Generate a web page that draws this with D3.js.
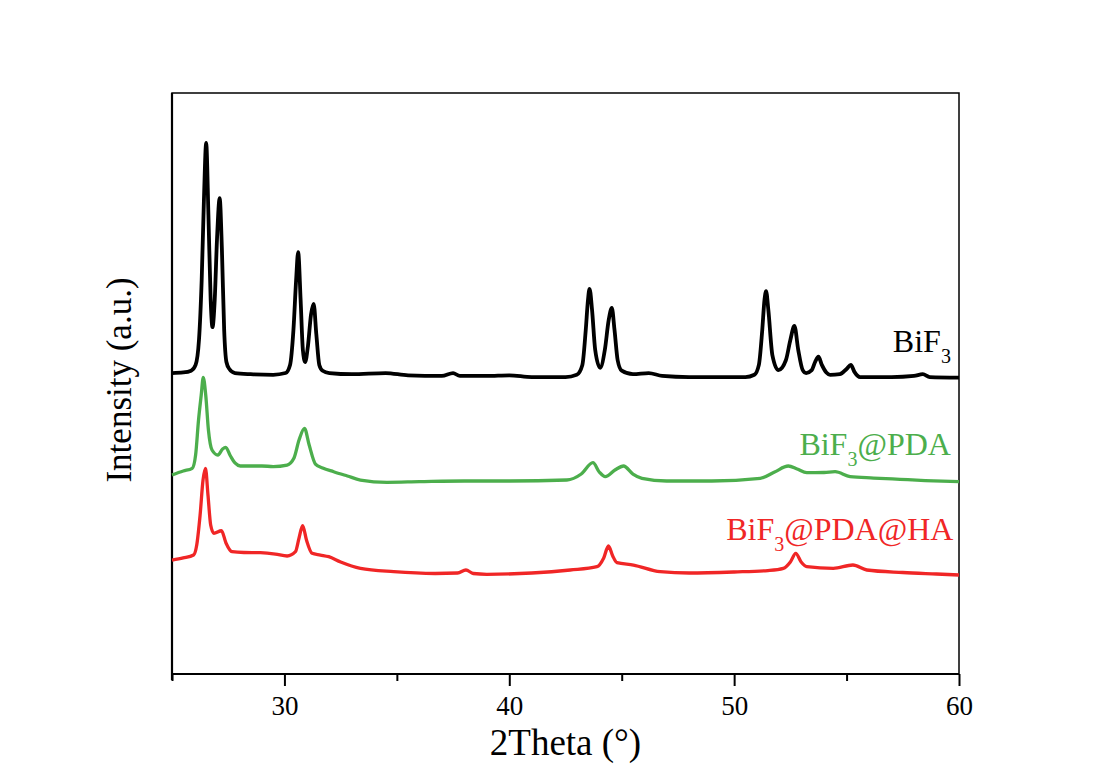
<!DOCTYPE html>
<html>
<head>
<meta charset="utf-8">
<script src="https://cdn.jsdelivr.net/npm/d3@7"></script>
<style>
  body { margin: 0; background: #fff; }
  text { font-family: "Liberation Serif", "Times New Roman", serif; }
</style>
</head>
<body>
<div id="main"></div>
<script>
const ctx = {
    CHART_WIDTH: 1100,
    CHART_HEIGHT: 776
};
const margin = {top: 93, right: 141, bottom: 102, left: 172};
const width = ctx.CHART_WIDTH - margin.left - margin.right;
const height = ctx.CHART_HEIGHT - margin.top - margin.bottom;

// x range and ticks (2Theta, degrees)
const xDomain = [25, 60];
const majorTicks = [30, 40, 50, 60];
const minorTicks = [25, 35, 45, 55];
const yDomain = [0, 100];

// [2theta, intensity (a.u., offset stacked)]
const bif3 = [[25.0,51.8],[25.5,51.9],[25.85,52.2],[26.05,53.2],[26.2,57.5],[26.32,67.8],[26.42,81.6],[26.52,91.4],[26.62,79.0],[26.72,64.4],[26.8,59.7],[26.9,64.4],[27.0,74.7],[27.12,81.9],[27.22,73.0],[27.32,59.2],[27.42,53.7],[27.55,52.5],[27.8,51.8],[28.5,51.6],[29.5,51.5],[30.05,51.8],[30.25,53.2],[30.4,59.2],[30.52,67.8],[30.61,72.6],[30.72,64.4],[30.82,55.8],[30.92,53.7],[31.05,56.6],[31.18,61.8],[31.3,63.7],[31.42,58.4],[31.55,53.2],[31.7,52.2],[32.0,51.8],[33.0,51.6],[34.5,51.8],[35.5,51.4],[37.0,51.3],[37.5,51.8],[37.8,51.3],[39.0,51.3],[40.0,51.4],[41.0,51.1],[42.5,51.1],[43.0,51.5],[43.25,53.2],[43.4,59.2],[43.5,64.4],[43.57,66.3],[43.68,62.7],[43.82,55.8],[44.04,52.7],[44.25,55.8],[44.42,60.9],[44.56,63.0],[44.68,59.2],[44.82,54.0],[45.0,52.2],[45.5,51.6],[46.2,51.8],[46.8,51.3],[48.0,51.1],[50.5,51.1],[50.9,51.5],[51.1,53.2],[51.25,59.2],[51.35,64.4],[51.42,65.9],[51.52,62.7],[51.7,54.9],[51.97,52.3],[52.3,54.0],[52.5,57.5],[52.68,59.9],[52.85,55.8],[53.05,52.3],[53.2,51.8],[53.45,52.3],[53.6,53.7],[53.75,54.6],[53.9,53.2],[54.1,51.9],[54.27,51.5],[54.7,51.6],[55.0,52.5],[55.19,53.2],[55.35,52.0],[55.6,51.1],[57.0,51.1],[58.0,51.3],[58.39,51.6],[58.7,51.1],[60.0,51.0]];

const bif3Pda = [[25.0,34.25],[25.5,34.94],[25.9,35.4],[26.05,37.69],[26.18,43.72],[26.3,48.02],[26.39,51.07],[26.5,48.02],[26.62,42.0],[26.78,38.55],[27.04,37.69],[27.25,38.73],[27.39,39.02],[27.6,37.52],[27.8,36.32],[28.04,35.8],[29.0,35.8],[29.5,35.71],[30.12,35.97],[30.42,37.13],[30.65,40.28],[30.89,42.29],[31.1,39.41],[31.38,36.14],[31.7,35.46],[32.19,34.82],[32.8,34.08],[33.38,33.39],[34.56,32.99],[36.0,33.1],[38.0,33.22],[40.0,33.22],[42.56,33.39],[43.2,34.42],[43.72,36.37],[44.0,34.77],[44.27,33.96],[44.7,35.11],[45.08,35.8],[45.5,34.42],[45.9,33.68],[47.0,33.22],[49.0,33.22],[51.16,33.68],[51.8,34.77],[52.41,35.8],[52.8,35.28],[53.23,34.65],[54.0,34.68],[54.49,34.82],[55.16,33.96],[56.2,33.73],[57.38,33.51],[58.5,33.3],[60.0,33.1]];

const bif3PdaHa = [[25.0,19.62],[25.5,19.97],[25.96,20.48],[26.1,22.2],[26.25,27.37],[26.38,33.39],[26.49,35.4],[26.6,30.81],[26.72,25.65],[26.86,24.22],[27.2,24.66],[27.4,22.55],[27.67,21.05],[28.2,20.91],[28.93,20.88],[29.6,20.65],[30.12,20.31],[30.49,21.05],[30.65,23.41],[30.81,25.52],[30.98,23.06],[31.23,20.77],[31.6,20.48],[31.97,20.19],[32.5,19.28],[33.38,18.19],[34.86,17.61],[36.7,17.3],[37.7,17.38],[38.07,17.9],[38.4,17.3],[39.0,17.16],[41.0,17.38],[42.71,17.9],[43.9,18.47],[44.2,19.97],[44.41,22.03],[44.6,20.31],[44.79,19.16],[45.52,18.76],[46.71,17.61],[48.0,17.38],[50.0,17.56],[51.5,17.81],[52.19,18.19],[52.5,19.28],[52.74,20.77],[52.98,19.28],[53.23,18.47],[54.41,18.19],[55.28,18.76],[55.9,17.9],[57.5,17.47],[59.0,17.21],[60.0,17.04]];

const seriesNames = ["BiF3", "BiF3@PDA", "BiF3@PDA@HA"];
const seriesData = [bif3, bif3Pda, bif3PdaHa];
const seriesColors = ["#000000", "#4cae4c", "#f02626"];
const seriesWidths = [3.8, 3.3, 3.3];
// label anchor (right end) in data units
const labelX = [59.64, 59.64, 59.75];
const labelY = [55.5, 37.7, 23.1];

function createViz() {
    const svg = d3.select("#main").append("svg")
        .attr("width", ctx.CHART_WIDTH)
        .attr("height", ctx.CHART_HEIGHT);
    svg.append("rect").attr("width", ctx.CHART_WIDTH).attr("height", ctx.CHART_HEIGHT).attr("fill", "#fff");

    const g = svg.append("g").attr("transform", `translate(${margin.left},${margin.top})`);

    const x = d3.scaleLinear().domain(xDomain).range([0, width]);
    const y = d3.scaleLinear().domain(yDomain).range([height, 0]);

    // frame: top/right thin
    g.append("rect")
        .attr("x", 0).attr("y", 0)
        .attr("width", width).attr("height", height)
        .attr("fill", "none").attr("stroke", "#000").attr("stroke-width", 1.5);

    // minor ticks
    g.append("g")
        .attr("transform", `translate(0,${height})`)
        .call(d3.axisBottom(x).tickValues(minorTicks).tickSize(7).tickFormat(""))
        .call(a => a.select(".domain").remove())
        .call(a => a.selectAll("line").attr("stroke-width", 2));

    // major ticks and labels
    const xAxis = g.append("g")
        .attr("transform", `translate(0,${height})`)
        .call(d3.axisBottom(x).tickValues(majorTicks).tickSize(12).tickPadding(10).tickFormat(d3.format("d")));
    xAxis.attr("font-size", 27).attr("font-family", '"Liberation Serif", "Times New Roman", serif');
    xAxis.select(".domain").attr("stroke-width", 2.2).attr("d", `M0,0H${width}`);
    xAxis.selectAll("line").attr("stroke-width", 2);
    xAxis.selectAll("text").attr("fill", "#000");

    // left axis line
    g.append("line")
        .attr("x1", 0).attr("x2", 0).attr("y1", 0).attr("y2", height + 6)
        .attr("stroke", "#000").attr("stroke-width", 2.2);

    const line = d3.line()
        .x(d => x(d[0]))
        .y(d => y(d[1]))
        .curve(d3.curveMonotoneX);

    seriesData.forEach((data, i) => {
        g.append("path")
            .datum(data)
            .attr("fill", "none")
            .attr("stroke", seriesColors[i])
            .attr("stroke-width", seriesWidths[i])
            .attr("stroke-linejoin", "round")
            .attr("d", line);
    });

    // series labels with subscript 3
    seriesNames.forEach((name, i) => {
        const rest = name.slice(4);
        const t = g.append("text")
            .attr("x", x(labelX[i]))
            .attr("y", y(labelY[i]))
            .attr("text-anchor", "end")
            .attr("font-size", 32)
            .attr("fill", seriesColors[i]);
        t.append("tspan").text("BiF");
        t.append("tspan").attr("font-size", 20).attr("dy", 11).text("3");
        if (rest) t.append("tspan").attr("dy", -11).text(rest);
    });

    // axis titles
    svg.append("text")
        .attr("x", margin.left + width / 2)
        .attr("y", 755)
        .attr("text-anchor", "middle")
        .attr("font-size", 37)
        .text("2Theta (°)");

    svg.append("text")
        .attr("transform", `translate(131,${margin.top + 287}) rotate(-90)`)
        .attr("text-anchor", "middle")
        .attr("font-size", 35)
        .text("Intensity (a.u.)");
}

createViz();
</script>
</body>
</html>
